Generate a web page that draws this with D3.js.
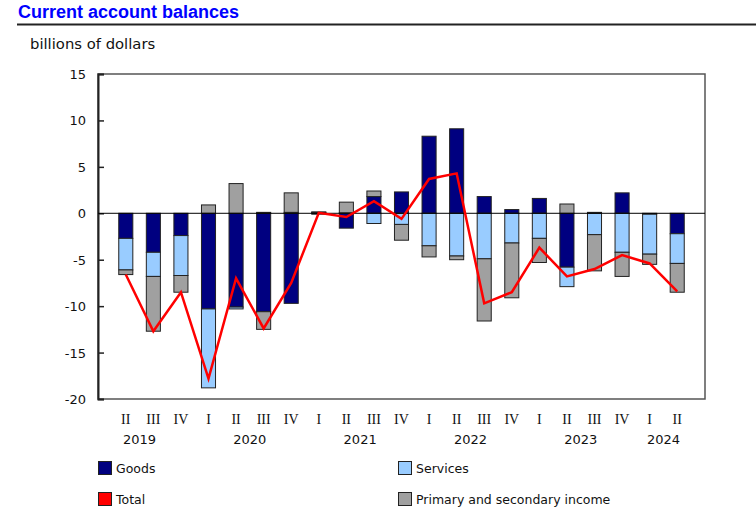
<!DOCTYPE html>
<html lang="en">
<head>
<meta charset="utf-8">
<title>Current account balances</title>
<script src="https://cdn.jsdelivr.net/npm/d3@7"></script>
<style>
  body { margin: 0; background: #fff; }
  svg { display: block; }
</style>
</head>
<body>
<script>
// quarters from 2019 Q2 to 2024 Q2
var quarters = ["II","III","IV","I","II","III","IV","I","II","III","IV",
                "I","II","III","IV","I","II","III","IV","I","II"];
// year label spans: first and last quarter index (2019 is centred as a full year)
var years = [["2019", -1, 2], ["2020", 3, 6], ["2021", 7, 10],
             ["2022", 11, 14], ["2023", 15, 18], ["2024", 19, 20]];

// billions of dollars
var goods    = [-2.7, -4.2, -2.4, -10.3, -10.1, -10.6, -9.7, 0.1, -1.6, 1.8, 2.3,
                8.3, 9.1, 1.8, 0.4, 1.6, -5.8, 0.1, 2.2, -0.1, -2.2];
var services = [-3.4, -2.6, -4.3, -8.5, -0.2, 0.1, 0.1, -0.1, 0.05, -1.1, -1.2,
                -3.5, -4.6, -4.9, -3.2, -2.7, -2.1, -2.3, -4.2, -4.3, -3.2];
var income   = [-0.5, -5.9, -1.8, 0.9, 3.2, -1.9, 2.1, 0.05, 1.15, 0.6, -1.7,
                -1.2, -0.4, -6.7, -5.9, -2.6, 1.0, -3.9, -2.6, -1.1, -3.1];
var total    = [-6.6, -12.7, -8.5, -17.8, -7.0, -12.4, -7.5, 0.05, -0.4, 1.3, -0.6,
                3.7, 4.3, -9.7, -8.5, -3.7, -6.8, -6.0, -4.5, -5.4, -8.4];

var seriesNames = ["Goods", "Services", "Primary and secondary income"];
var seriesColors = ["#000080", "#99CCFF", "#A0A0A0"];

var w = 756, h = 509;
var svg = d3.select("body").append("svg")
  .attr("width", w)
  .attr("height", h);

// title and rule
svg.append("text")
  .attr("x", 18).attr("y", 18)
  .attr("font-family", "Liberation Sans, Arial, sans-serif")
  .attr("font-weight", "bold")
  .attr("font-size", "18px")
  .attr("fill", "#0000FF")
  .text("Current account balances");
svg.append("line")
  .attr("x1", 17).attr("x2", w)
  .attr("y1", 24.5).attr("y2", 24.5)
  .attr("stroke", "#222").attr("stroke-width", 2);

svg.append("text")
  .attr("x", 30).attr("y", 49)
  .attr("font-family", "DejaVu Sans, Verdana, sans-serif")
  .attr("font-size", "14.8px")
  .attr("fill", "#111")
  .text("billions of dollars");

var plotLeft = 98, plotRight = 705, plotTop = 74, plotBottom = 399;

var y = d3.scaleLinear().domain([-20, 15]).range([plotBottom, plotTop]);
var x = d3.scaleBand()
  .domain(d3.range(quarters.length))
  .range([112, 691])
  .paddingInner(0.49)
  .paddingOuter(0.245);

// plot frame
svg.append("rect")
  .attr("x", plotLeft).attr("y", plotTop)
  .attr("width", plotRight - plotLeft).attr("height", plotBottom - plotTop)
  .attr("fill", "none")
  .attr("stroke", "#555").attr("stroke-width", 1.5);

// y axis, ticks pointing inwards
var yAxis = svg.append("g")
  .attr("transform", "translate(" + plotLeft + ",0)")
  .call(d3.axisRight(y).tickValues(d3.range(-20, 16, 5)).tickSize(6).tickFormat(""));
yAxis.select(".domain").attr("stroke", "#222").attr("stroke-width", 2);
yAxis.selectAll(".tick line").attr("stroke", "#222").attr("stroke-width", 1.5);

svg.append("g").selectAll("text")
  .data(d3.range(-20, 16, 5))
  .enter()
  .append("text")
  .attr("x", 86)
  .attr("y", function(d) { return y(d) + 5; })
  .attr("text-anchor", "end")
  .attr("font-family", "DejaVu Sans, Verdana, sans-serif")
  .attr("font-size", "13px")
  .attr("fill", "#111")
  .text(function(d) { return d; });

// stacked bars: positives stack up from zero, negatives stack down
var rows = quarters.map(function(q, i) {
  return [goods[i], services[i], income[i]];
});
var bars = svg.append("g");
rows.forEach(function(vals, i) {
  var pos = 0, neg = 0;
  vals.forEach(function(v, k) {
    var y0, y1;
    if (v >= 0) { y0 = pos; pos += v; y1 = pos; }
    else { y0 = neg; neg += v; y1 = neg; }
    bars.append("rect")
      .attr("x", x(i))
      .attr("y", y(Math.max(y0, y1)))
      .attr("width", x.bandwidth())
      .attr("height", Math.abs(y(y0) - y(y1)))
      .attr("fill", seriesColors[k])
      .attr("stroke", "#222")
      .attr("stroke-width", 1);
  });
});

// zero line
svg.append("line")
  .attr("x1", plotLeft).attr("x2", plotRight)
  .attr("y1", y(0)).attr("y2", y(0))
  .attr("stroke", "#000").attr("stroke-width", 1);

// total line
var line = d3.line()
  .x(function(d, i) { return x(i) + x.bandwidth() / 2; })
  .y(function(d) { return y(d); });
svg.append("path")
  .datum(total)
  .attr("d", line)
  .attr("fill", "none")
  .attr("stroke", "#FF0000")
  .attr("stroke-width", 2.5)
  .attr("stroke-linejoin", "miter");

// quarter labels
svg.append("g").selectAll("text")
  .data(quarters)
  .enter()
  .append("text")
  .attr("x", function(d, i) { return x(i) + x.bandwidth() / 2; })
  .attr("y", 424)
  .attr("text-anchor", "middle")
  .attr("font-family", "Liberation Serif, Times New Roman, serif")
  .attr("font-size", "14px")
  .attr("fill", "#111")
  .text(function(d) { return d; });

// year labels
var step = x.step();
svg.append("g").selectAll("text")
  .data(years)
  .enter()
  .append("text")
  .attr("x", function(d) {
    return x(0) + x.bandwidth() / 2 + step * (d[1] + d[2]) / 2;
  })
  .attr("y", 444)
  .attr("text-anchor", "middle")
  .attr("font-family", "DejaVu Sans, Verdana, sans-serif")
  .attr("font-size", "13px")
  .attr("fill", "#111")
  .text(function(d) { return d[0]; });

// legend
var legendItems = [
  { name: seriesNames[0], color: seriesColors[0], x: 98, y: 461 },
  { name: seriesNames[1], color: seriesColors[1], x: 398, y: 461 },
  { name: "Total", color: "#FF0000", x: 98, y: 492 },
  { name: seriesNames[2], color: seriesColors[2], x: 398, y: 492 }
];
var legend = svg.append("g").selectAll("g")
  .data(legendItems)
  .enter()
  .append("g");
legend.append("rect")
  .attr("x", function(d) { return d.x + 0.5; })
  .attr("y", function(d) { return d.y + 0.5; })
  .attr("width", 13).attr("height", 13)
  .attr("fill", function(d) { return d.color; })
  .attr("stroke", "#222").attr("stroke-width", 1);
legend.append("text")
  .attr("x", function(d) { return d.x + 18; })
  .attr("y", function(d) { return d.y + 12; })
  .attr("font-family", "DejaVu Sans, Verdana, sans-serif")
  .attr("font-size", "12.5px")
  .attr("fill", "#111")
  .text(function(d) { return d.name; });
</script>
</body>
</html>
